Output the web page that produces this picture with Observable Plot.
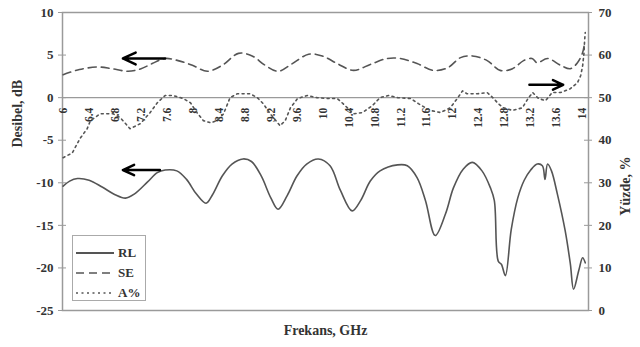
<!DOCTYPE html>
<html><head><meta charset="utf-8">
<script src="https://cdn.jsdelivr.net/npm/d3@7"></script>
<script src="https://cdn.jsdelivr.net/npm/@observablehq/plot@0.6"></script>
<style>
body{margin:0;background:#fff;}
#wrap{position:relative;width:640px;height:347px;}
#legend{position:absolute;left:72px;top:235px;width:74px;height:66px;border:1px solid #aaa;font:bold 13px "Liberation Serif";color:#333;background:#fff;box-sizing:border-box;}
.row{position:absolute;left:3px;height:20px;display:flex;align-items:center;gap:4px;}
</style></head><body><div id="wrap"></div>
<script>
// ---- data ----
const freqTicks = [6, 6.4, 6.8, 7.2, 7.6, 8, 8.4, 8.8, 9.2, 9.6, 10, 10.4, 10.8, 11.2, 11.6, 12, 12.4, 12.8, 13.2, 13.6, 14];
const leftTicks = [-25, -20, -15, -10, -5, 0, 5, 10];
const rightTickLabels = ["0", "10", "20", "30", "40", "50", "60", "70"];

// RL (dB) - solid
const rlFreq = [6.0, 6.1, 6.22, 6.4, 6.6, 6.8, 6.96, 7.1, 7.3, 7.45, 7.57, 7.75, 7.9, 8.05, 8.2, 8.3, 8.45, 8.6, 8.77, 8.9, 9.05, 9.2, 9.31, 9.45, 9.6, 9.75, 9.93, 10.11, 10.27, 10.45, 10.58, 10.73, 10.88, 11.15, 11.3, 11.45, 11.58, 11.73, 11.89, 12.01, 12.16, 12.30, 12.45, 12.58, 12.64, 12.70, 12.75, 12.81, 12.9, 13.0, 13.1, 13.2, 13.3, 13.38, 13.42, 13.46, 13.52, 13.61, 13.73, 13.81, 13.86, 13.94, 14.0, 14.04];
const rlDb   = [-10.4, -9.8, -9.5, -9.7, -10.5, -11.4, -11.8, -11.3, -9.9, -8.8, -8.5, -8.6, -9.6, -11.3, -12.4, -11.4, -9.2, -7.8, -7.2, -7.5, -9.2, -11.8, -13.1, -11.5, -9.2, -7.8, -7.2, -8.0, -10.9, -13.3, -12.1, -9.8, -8.6, -7.9, -8.0, -9.4, -12.1, -16.2, -13.6, -10.6, -8.4, -7.6, -8.6, -10.6, -12.1, -19.2, -19.6, -20.9, -15.5, -11.8, -9.7, -8.5, -7.8, -8.0, -9.6, -7.8, -8.6, -11.3, -15.6, -19.5, -22.5, -20.3, -18.8, -19.4];

// SE (dB) - dashed
const seFreq = [6.0, 6.25, 6.54, 6.75, 7.0, 7.2, 7.37, 7.57, 7.77, 7.99, 8.22, 8.45, 8.70, 8.91, 9.11, 9.31, 9.53, 9.78, 9.99, 10.22, 10.47, 10.73, 10.99, 11.19, 11.45, 11.70, 11.92, 12.12, 12.30, 12.53, 12.73, 12.92, 13.09, 13.22, 13.30, 13.46, 13.66, 13.81, 13.92, 14.0, 14.03];
const seDb   = [2.7, 3.3, 3.6, 3.4, 3.1, 3.4, 4.0, 4.6, 4.35, 3.8, 3.1, 3.8, 5.2, 4.9, 3.8, 3.1, 4.0, 5.1, 4.9, 4.0, 3.2, 3.9, 4.6, 4.6, 4.0, 3.2, 3.5, 4.7, 4.9, 4.35, 3.2, 3.4, 4.35, 4.6, 4.1, 4.6, 3.8, 3.4, 4.1, 5.3, 6.5];

// A% (percent, right axis) - dotted
const aFreq = [6.0, 6.14, 6.26, 6.37, 6.42, 6.57, 6.77, 6.88, 7.03, 7.19, 7.34, 7.45, 7.57, 7.69, 7.85, 7.96, 8.06, 8.16, 8.27, 8.37, 8.47, 8.57, 8.68, 8.88, 8.99, 9.08, 9.19, 9.34, 9.42, 9.50, 9.61, 9.76, 9.91, 10.07, 10.22, 10.31, 10.47, 10.61, 10.76, 10.88, 11.01, 11.15, 11.35, 11.47, 11.65, 11.81, 11.96, 12.07, 12.15, 12.22, 12.38, 12.53, 12.63, 12.70, 12.78, 12.92, 13.07, 13.16, 13.23, 13.32, 13.43, 13.53, 13.66, 13.81, 13.92, 13.97, 14.0, 14.02, 14.03, 14.04];
const aPct  = [35.9, 37, 40.4, 42.7, 44.6, 46.2, 46.2, 45.3, 42.7, 43.9, 46.5, 48.8, 50.5, 50.5, 49.8, 48.8, 46.5, 44.6, 44.1, 44.6, 46.2, 50, 50.9, 50.9, 50, 48.6, 46.2, 43.4, 44.6, 47.6, 49.8, 50.5, 50, 49.8, 49.8, 48.6, 46.2, 46.5, 48.1, 50, 50.5, 50, 49.8, 48.6, 47, 46.5, 47.6, 49.8, 51.6, 50.9, 50.9, 51.2, 49.8, 48.6, 47.6, 47, 47.6, 49.8, 51.2, 49.8, 49.3, 51.2, 51.2, 52.1, 53.5, 55.2, 57.5, 60.4, 63.4, 65.3];

// annotation arrows (data units, left axis)
const arrowFrom = [7.57, 7.49, 13.18];
const arrowTo   = [6.92, 6.92, 13.70];
const arrowDb   = [4.6, -8.5, 1.5];

const legendNames = ["RL", "SE", "A%"];
const legendDash  = [null, "8,5", "2,3.5"];

// ---- build ----
const rl = rlFreq.map((f, i) => ({f, v: rlDb[i]}));
const se = seFreq.map((f, i) => ({f, v: seDb[i]}));
const ap = aFreq.map((f, i) => ({f, v: (aPct[i] - 50) / 2}));
const arrows = arrowFrom.map((x1, i) => ({x1, x2: arrowTo[i], y: arrowDb[i]}));
const lineColor = "#555";
const gridColor = "#9a9a9a";
const fmtF = d => String(Math.round(d * 10) / 10);

const plot = Plot.plot({
  width: 640, height: 347,
  marginLeft: 62, marginRight: 52, marginTop: 12, marginBottom: 37,
  x: {domain: [5.99, 14.09], axis: null},
  y: {domain: [-25, 10], axis: null},
  style: {fontFamily: "Liberation Serif", fontWeight: "bold", fontSize: "13px", color: "#333", background: "#fff"},
  marks: [
    Plot.frame({stroke: gridColor, strokeWidth: 1.5}),
    Plot.ruleY([0], {stroke: gridColor, strokeWidth: 1.2}),
    Plot.ruleY(leftTicks, {insetRight: 518, dx: -4, stroke: gridColor}),
    Plot.ruleY(leftTicks, {insetLeft: 518, dx: 4, stroke: gridColor}),
    Plot.axisY(leftTicks, {anchor: "left", tickSize: 0, tickPadding: 9, label: null, tickFormat: d => String(d)}),
    Plot.axisY(leftTicks, {anchor: "right", tickSize: 0, tickPadding: 10, label: null, tickFormat: d => rightTickLabels[leftTicks.indexOf(d)]}),
    Plot.text(freqTicks, {x: d => d, y: () => 0, text: fmtF, rotate: -90, textAnchor: "end", dy: 10, fontSize: 11.5}),
    Plot.line(ap, {x: "f", y: "v", stroke: lineColor, strokeWidth: 1.6, strokeDasharray: "2,3.5"}),
    Plot.line(se, {x: "f", y: "v", stroke: lineColor, strokeWidth: 1.6, strokeDasharray: "8,5", curve: "catmull-rom"}),
    Plot.line(rl, {x: "f", y: "v", stroke: lineColor, strokeWidth: 1.6, curve: "catmull-rom"}),
    Plot.arrow(arrows, {x1: "x1", x2: "x2", y1: "y", y2: "y", stroke: "#000", strokeWidth: 2.5, headLength: 9, headAngle: 50}),
    Plot.text(["Desibel, dB"], {frameAnchor: "left", dx: -45, dy: -14, rotate: -90, fontSize: 14}),
    Plot.text(["Yüzde, %"], {frameAnchor: "right", dx: 37, dy: -5, rotate: -90, fontSize: 14}),
    Plot.text(["Frekans, GHz"], {frameAnchor: "bottom", dy: 24, fontSize: 14})
  ]
});

const wrap = document.getElementById("wrap");
wrap.appendChild(plot);

const legend = document.createElement("div");
legend.id = "legend";
legendNames.forEach((name, i) => {
  const row = document.createElement("div");
  row.className = "row";
  row.style.top = (7 + i * 20) + "px";
  const dash = legendDash[i] ? ` stroke-dasharray="${legendDash[i]}"` : "";
  row.innerHTML = `<svg width="38" height="6"><line x1="0" y1="3" x2="38" y2="3" stroke="${lineColor}" stroke-width="${legendDash[i] ? 1.6 : 2.2}"${dash}/></svg><span>${name}</span>`;
  legend.appendChild(row);
});
wrap.appendChild(legend);
</script></body></html>
